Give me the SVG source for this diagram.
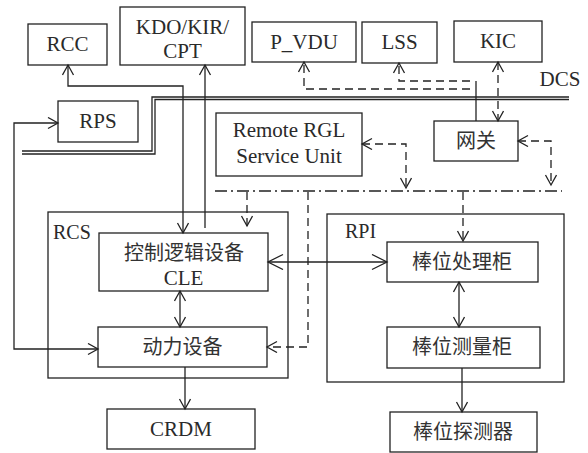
<svg xmlns="http://www.w3.org/2000/svg" width="588" height="453" viewBox="0 0 588 453">
<style>
.box{fill:#fff;stroke:#222;stroke-width:1.3}
.grp{fill:none;stroke:#222;stroke-width:1.3}
.t{font-family:'Liberation Serif','Times New Roman','DejaVu Serif',serif;font-size:21px;fill:#2a2a2a;text-anchor:middle}
.cn{font-family:'Noto Sans CJK SC','Liberation Serif',sans-serif;font-size:20px;fill:#333;text-anchor:middle}
.l{fill:none;stroke:#222;stroke-width:1.3}
.d{fill:none;stroke:#222;stroke-width:1.3;stroke-dasharray:8,5}
.dd{fill:none;stroke:#222;stroke-width:1.3;stroke-dasharray:12,4,2,4}
</style>
<defs>
<marker id="a" markerUnits="userSpaceOnUse" markerWidth="14" markerHeight="14" refX="11" refY="6" orient="auto-start-reverse"><path d="M1,0.5 L11,6 L1,11.5" fill="none" stroke="#222" stroke-width="1.3"/></marker>
<marker id="b" markerUnits="userSpaceOnUse" markerWidth="20" markerHeight="20" refX="16" refY="8" orient="auto-start-reverse"><path d="M1,0.5 L16,8 L1,15.5" fill="none" stroke="#222" stroke-width="1.3"/></marker>
</defs>

<g id="RCS-group"><rect class="grp" x="48" y="212" width="240" height="166"/><text class="t" x="53" y="239" text-anchor="start" style="text-anchor:start;font-size:20px">RCS</text></g>
<g id="RPI-group"><rect class="grp" x="327" y="214" width="237" height="168"/><text class="t" x="345" y="238" style="text-anchor:start;font-size:20px">RPI</text></g>

<g id="RCC"><rect class="box" x="28" y="24" width="79" height="41"/><text class="t" x="67.5" y="51">RCC</text></g>
<g id="KDO"><rect class="box" x="120" y="7" width="125" height="58"/><text class="t" x="182.5" y="34">KDO/KIR/</text><text class="t" x="182.5" y="58">CPT</text></g>
<g id="P_VDU"><rect class="box" x="252" y="22" width="104" height="40"/><text class="t" x="304" y="49">P_VDU</text></g>
<g id="LSS"><rect class="box" x="362" y="22" width="75" height="41"/><text class="t" x="399.5" y="49">LSS</text></g>
<g id="KIC"><rect class="box" x="454" y="21" width="88" height="41"/><text class="t" x="498" y="48">KIC</text></g>
<g id="DCS-label"><text class="t" x="560" y="86">DCS</text></g>
<g id="RPS"><rect class="box" x="58" y="101" width="80" height="41"/><text class="t" x="98" y="128">RPS</text></g>
<g id="RGL"><rect class="box" x="216" y="113" width="146" height="63"/><text class="t" x="289" y="137">Remote RGL</text><text class="t" x="289" y="163">Service Unit</text></g>
<g id="gateway"><rect class="box" x="434" y="121" width="84" height="40"/><text class="cn" x="476" y="148">网关</text></g>
<g id="CLE"><rect class="box" x="99" y="233" width="169" height="58"/><text class="cn" x="184" y="260">控制逻辑设备</text><text class="t" x="183.5" y="285">CLE</text></g>
<g id="power"><rect class="box" x="98" y="327" width="169" height="40"/><text class="cn" x="182.5" y="354">动力设备</text></g>
<g id="CRDM"><rect class="box" x="107" y="409" width="148" height="40"/><text class="t" x="181" y="436">CRDM</text></g>
<g id="proc"><rect class="box" x="387" y="242" width="151" height="40"/><text class="cn" x="462" y="269">棒位处理柜</text></g>
<g id="meas"><rect class="box" x="387" y="327" width="153" height="41"/><text class="cn" x="462" y="354">棒位测量柜</text></g>
<g id="det"><rect class="box" x="390" y="412" width="147" height="40"/><text class="cn" x="463" y="439">棒位探测器</text></g>

<g id="connectors">
<path class="l" d="M569,97 L152,97 L152,151 L22,151"/>
<path class="l" d="M569,99.5 L155,99.5 L155,154 L22,154"/>
<path class="l" d="M183,233 L183,86 L68,86 L68,65" marker-start="url(#a)" marker-end="url(#a)"/>
<path class="l" d="M205,228 L205,65" marker-end="url(#a)"/>
<path class="l" d="M98,349 L14,349 L14,123 L58,123" marker-start="url(#a)" marker-end="url(#a)"/>
<path class="d" d="M470,89 L304,89 L304,62" marker-end="url(#a)"/>
<path class="d" d="M470,81 L399,81 L399,63" marker-end="url(#a)"/>
<path class="l" d="M476,81 L476,121"/>
<path class="d" d="M498,62 L498,121" marker-start="url(#a)" marker-end="url(#a)"/>
<path class="d" d="M362,144 L406,144 L406,188" marker-start="url(#a)" marker-end="url(#a)"/>
<path class="d" d="M518,141 L551,141 L551,185" marker-start="url(#a)" marker-end="url(#a)"/>
<path class="dd" d="M215,191 L562,191"/>
<path class="d" d="M247,192 L247,226" marker-end="url(#a)"/>
<path class="d" d="M308,192 L308,347 L267,347" marker-end="url(#a)"/>
<path class="d" d="M463,192 L463,241" marker-end="url(#a)"/>
<path class="l" d="M268,262 L387,262" marker-start="url(#b)" marker-end="url(#b)"/>
<path class="l" d="M180,291 L180,327" marker-start="url(#a)" marker-end="url(#a)"/>
<path class="l" d="M185,367 L185,409" marker-end="url(#a)"/>
<path class="l" d="M459,282 L459,327" marker-start="url(#a)" marker-end="url(#a)"/>
<path class="l" d="M462,368 L462,412" marker-end="url(#a)"/>
</g>
</svg>
